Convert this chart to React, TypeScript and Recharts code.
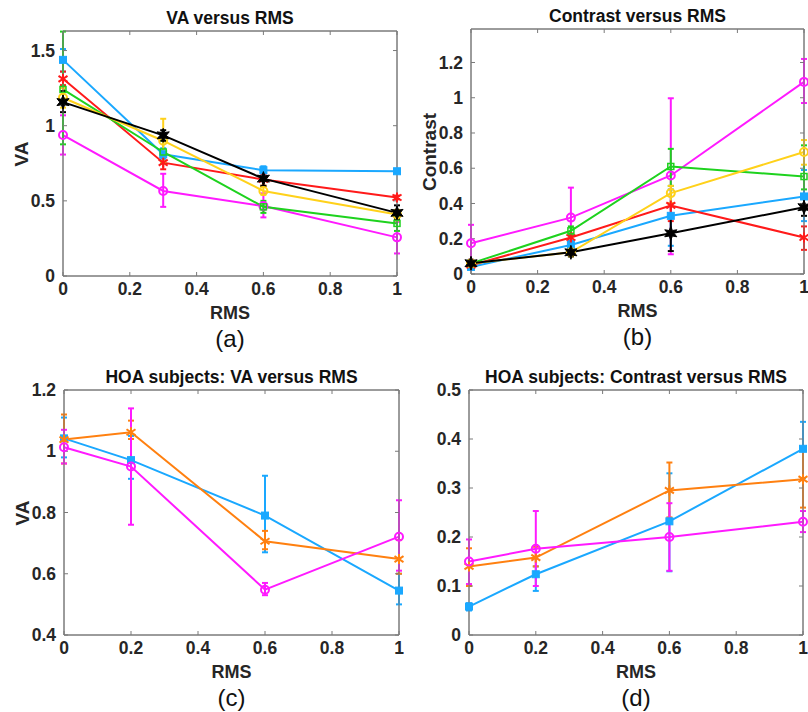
import React from 'react';
import { LineChart, Line, XAxis, YAxis, ErrorBar, ReferenceArea } from 'recharts';

// x positions (RMS)
const rmsAB = [0, 0.3, 0.6, 1];
const rmsCD = [0, 0.2, 0.6, 1];
const xTicks = [0, 0.2, 0.4, 0.6, 0.8, 1];

// (a) VA versus RMS
const vaMagenta = [0.938, 0.566, 0.465, 0.257];
const vaMagentaLo = [0.808, 0.46, 0.39, 0.15];
const vaMagentaHi = [1.069, 0.68, 0.55, 0.36];
const vaBlue = [1.438, 0.81, 0.704, 0.697];
const vaBlueLo = [1.36, 0.78, 0.68, 0.685];
const vaBlueHi = [1.51, 0.85, 0.73, 0.71];
const vaRed = [1.312, 0.754, 0.642, 0.522];
const vaRedLo = [1.27, 0.71, 0.6, 0.51];
const vaRedHi = [1.36, 0.8, 0.68, 0.535];
const vaGreen = [1.241, 0.825, 0.46, 0.35];
const vaGreenLo = [0.876, 0.75, 0.42, 0.3];
const vaGreenHi = [1.626, 0.9, 0.5, 0.4];
const vaYellow = [1.186, 0.9, 0.566, 0.409];
const vaYellowLo = [1.12, 0.76, 0.54, 0.37];
const vaYellowHi = [1.25, 1.046, 0.6, 0.44];
const vaBlack = [1.157, 0.936, 0.648, 0.42];
const vaBlackLo = [1.09, 0.9, 0.6, 0.38];
const vaBlackHi = [1.23, 0.97, 0.7, 0.47];

// (b) Contrast versus RMS
const ctMagenta = [0.174, 0.32, 0.559, 1.09];
const ctMagentaLo = [0.08, 0.16, 0.112, 0.97];
const ctMagentaHi = [0.279, 0.49, 0.997, 1.22];
const ctBlue = [0.04, 0.165, 0.33, 0.44];
const ctBlueLo = [0.03, 0.14, 0.16, 0.3];
const ctBlueHi = [0.05, 0.19, 0.48, 0.59];
const ctRed = [0.05, 0.207, 0.389, 0.207];
const ctRedLo = [0.03, 0.18, 0.3, 0.137];
const ctRedHi = [0.08, 0.23, 0.4, 0.27];
const ctGreen = [0.06, 0.245, 0.61, 0.553];
const ctGreenLo = [0.05, 0.22, 0.5, 0.48];
const ctGreenHi = [0.07, 0.27, 0.71, 0.73];
const ctYellow = [0.06, 0.123, 0.459, 0.692];
const ctYellowLo = [0.05, 0.1, 0.4, 0.62];
const ctYellowHi = [0.07, 0.14, 0.5, 0.76];
const ctBlack = [0.061, 0.123, 0.231, 0.379];
const ctBlackLo = [0.04, 0.1, 0.13, 0.33];
const ctBlackHi = [0.08, 0.16, 0.33, 0.43];

// (c) HOA subjects: VA versus RMS
const hoaVaBlue = [1.042, 0.971, 0.79, 0.545];
const hoaVaBlueLo = [0.98, 0.91, 0.67, 0.5];
const hoaVaBlueHi = [1.11, 1.05, 0.92, 0.6];
const hoaVaOrange = [1.038, 1.062, 0.706, 0.648];
const hoaVaOrangeLo = [0.96, 1.04, 0.68, 0.6];
const hoaVaOrangeHi = [1.12, 1.1, 0.74, 0.71];
const hoaVaMagenta = [1.013, 0.95, 0.548, 0.721];
const hoaVaMagentaLo = [0.96, 0.76, 0.53, 0.61];
const hoaVaMagentaHi = [1.07, 1.14, 0.57, 0.84];

// (d) HOA subjects: Contrast versus RMS
const hoaCtBlue = [0.058, 0.124, 0.232, 0.38];
const hoaCtBlueLo = [0.05, 0.09, 0.13, 0.32];
const hoaCtBlueHi = [0.065, 0.14, 0.33, 0.435];
const hoaCtOrange = [0.14, 0.158, 0.295, 0.318];
const hoaCtOrangeLo = [0.1, 0.14, 0.24, 0.26];
const hoaCtOrangeHi = [0.177, 0.18, 0.352, 0.378];
const hoaCtMagenta = [0.15, 0.176, 0.2, 0.231];
const hoaCtMagentaLo = [0.104, 0.1, 0.131, 0.21];
const hoaCtMagentaHi = [0.195, 0.253, 0.269, 0.253];

const BLUE = '#1aa8ff';
const RED = '#ff1a1a';
const GREEN = '#1ed21e';
const YELLOW = '#ffd11a';
const BLACK = '#000000';
const MAGENTA = '#ff1aff';
const ORANGE = '#ff8010';

const FONT = '"Liberation Sans", Arial, Helvetica, sans-serif';
const AXIS = '#7a7a7a';
const TEXT = '#262626';

type Shape = 'square' | 'openSquare' | 'circle' | 'star' | 'asterisk';

interface Series {
  key: string;
  color: string;
  shape: Shape;
  values: number[];
  lo: number[];
  hi: number[];
}

const Marker = ({ cx, cy, color, shape }: { cx: number; cy: number; color: string; shape: Shape }) => {
  if (cx == null || cy == null) return null;
  if (shape === 'square') {
    return <rect x={cx - 3.5} y={cy - 3.5} width={7} height={7} fill={color} stroke={color} />;
  }
  if (shape === 'openSquare') {
    return <rect x={cx - 3} y={cy - 3} width={6} height={6} fill="none" stroke={color} strokeWidth={1.5} />;
  }
  if (shape === 'circle') {
    return <circle cx={cx} cy={cy} r={4} fill="none" stroke={color} strokeWidth={2} />;
  }
  if (shape === 'star') {
    const pts: string[] = [];
    for (let i = 0; i < 12; i++) {
      const r = i % 2 === 0 ? 7 : 3.2;
      const a = (Math.PI / 6) * i - Math.PI / 2;
      pts.push(`${cx + r * Math.cos(a)},${cy + r * Math.sin(a)}`);
    }
    return <polygon points={pts.join(' ')} fill={color} stroke={color} strokeWidth={1} />;
  }
  // asterisk
  return (
    <g stroke={color} strokeWidth={2}>
      <line x1={cx} y1={cy - 5} x2={cx} y2={cy + 5} />
      <line x1={cx - 4.5} y1={cy - 3} x2={cx + 4.5} y2={cy + 3} />
      <line x1={cx - 4.5} y1={cy + 3} x2={cx + 4.5} y2={cy - 3} />
    </g>
  );
};

const buildRows = (xs: number[], series: Series[]) =>
  xs.map((x, i) => {
    const row: Record<string, any> = { x };
    series.forEach((s) => {
      row[s.key] = s.values[i];
      row[`${s.key}Err`] = [s.values[i] - s.lo[i], s.hi[i] - s.values[i]];
    });
    return row;
  });

interface PanelProps {
  left: number;
  top: number;
  plot: { top: number; right: number; bottom: number; left: number }; // plot box edges inside the panel
  xs: number[];
  series: Series[];
  yDomain: [number, number];
  yTicks: number[];
  title: string;
  yLabel?: string;
  sub: string;
}

const Panel: React.FC<PanelProps> = ({ left, top, plot, xs, series, yDomain, yTicks, title, yLabel, sub }) => {
  const data = buildRows(xs, series);
  // every axis takes 1px, so the margins are one less than the plot box offsets
  const margin = { top: plot.top - 1, right: 404 - plot.right - 1, bottom: 356 - plot.bottom - 1, left: plot.left - 1 };
  const mid = (plot.left + plot.right) / 2;
  const tickStyle = { fontSize: 17.5, fontWeight: 700, fill: TEXT, fontFamily: FONT };
  return (
    <div style={{ position: 'absolute', left, top, width: 404, height: 356, fontFamily: FONT }}>
      <LineChart width={404} height={356} data={data} margin={margin}>
        <XAxis
          dataKey="x"
          type="number"
          domain={[0, 1]}
          ticks={xTicks}
          height={1}
          tickSize={-4}
          tickMargin={11}
          stroke={AXIS}
          tick={tickStyle}
          interval={0}
        />
        <XAxis
          xAxisId="top"
          dataKey="x"
          type="number"
          orientation="top"
          domain={[0, 1]}
          ticks={xTicks}
          height={1}
          tickSize={-4}
          tickFormatter={() => ''}
          stroke={AXIS}
          interval={0}
        />
        <YAxis
          type="number"
          domain={yDomain}
          ticks={yTicks}
          width={1}
          tickSize={-4}
          tickMargin={12}
          stroke={AXIS}
          tick={tickStyle}
          allowDataOverflow
          interval={0}
        />
        <YAxis
          yAxisId="right"
          type="number"
          orientation="right"
          domain={yDomain}
          ticks={yTicks}
          width={1}
          tickSize={-4}
          tickFormatter={() => ''}
          stroke={AXIS}
          allowDataOverflow
          interval={0}
        />
        <ReferenceArea x1={0} x2={1} y1={yDomain[0]} y2={yDomain[1]} fill="none" stroke={AXIS} strokeWidth={1} />
        {series.map((s) => (
          <Line
            key={s.key}
            dataKey={s.key}
            stroke={s.color}
            strokeWidth={2}
            isAnimationActive={false}
            dot={(p: any) => <Marker key={`${s.key}-${p.index}`} cx={p.cx} cy={p.cy} color={s.color} shape={s.shape} />}
            activeDot={false}
          >
            <ErrorBar dataKey={`${s.key}Err`} direction="y" width={3} strokeWidth={2} stroke={s.color} />
          </Line>
        ))}
      </LineChart>
      <div style={{ position: 'absolute', left: mid - 200, width: 400, top: plot.top - 23, textAlign: 'center', fontSize: 17.5, fontWeight: 700, color: '#111', lineHeight: '20px' }}>
        {title}
      </div>
      <div style={{ position: 'absolute', left: mid - 100, width: 200, top: plot.bottom + 27, textAlign: 'center', fontSize: 18, fontWeight: 700, color: TEXT, lineHeight: '20px' }}>
        RMS
      </div>
      <div style={{ position: 'absolute', left: mid - 100, width: 200, top: plot.bottom + 49, textAlign: 'center', fontSize: 24, color: '#111', lineHeight: '28px' }}>
        {sub}
      </div>
      {yLabel && (
        <div
          style={{
            position: 'absolute',
            left: plot.left - 41 - 100,
            top: (plot.top + plot.bottom) / 2 - 11,
            width: 200,
            textAlign: 'center',
            fontSize: 19,
            fontWeight: 700,
            color: TEXT,
            lineHeight: '22px',
            transform: 'rotate(-90deg)',
          }}
        >
          {yLabel}
        </div>
      )}
    </div>
  );
};

const seriesA: Series[] = [
  { key: 'magenta', color: MAGENTA, shape: 'circle', values: vaMagenta, lo: vaMagentaLo, hi: vaMagentaHi },
  { key: 'blue', color: BLUE, shape: 'square', values: vaBlue, lo: vaBlueLo, hi: vaBlueHi },
  { key: 'red', color: RED, shape: 'asterisk', values: vaRed, lo: vaRedLo, hi: vaRedHi },
  { key: 'green', color: GREEN, shape: 'openSquare', values: vaGreen, lo: vaGreenLo, hi: vaGreenHi },
  { key: 'yellow', color: YELLOW, shape: 'circle', values: vaYellow, lo: vaYellowLo, hi: vaYellowHi },
  { key: 'black', color: BLACK, shape: 'star', values: vaBlack, lo: vaBlackLo, hi: vaBlackHi },
];

const seriesB: Series[] = [
  { key: 'magenta', color: MAGENTA, shape: 'circle', values: ctMagenta, lo: ctMagentaLo, hi: ctMagentaHi },
  { key: 'blue', color: BLUE, shape: 'square', values: ctBlue, lo: ctBlueLo, hi: ctBlueHi },
  { key: 'red', color: RED, shape: 'asterisk', values: ctRed, lo: ctRedLo, hi: ctRedHi },
  { key: 'green', color: GREEN, shape: 'openSquare', values: ctGreen, lo: ctGreenLo, hi: ctGreenHi },
  { key: 'yellow', color: YELLOW, shape: 'circle', values: ctYellow, lo: ctYellowLo, hi: ctYellowHi },
  { key: 'black', color: BLACK, shape: 'star', values: ctBlack, lo: ctBlackLo, hi: ctBlackHi },
];

const seriesC: Series[] = [
  { key: 'blue', color: BLUE, shape: 'square', values: hoaVaBlue, lo: hoaVaBlueLo, hi: hoaVaBlueHi },
  { key: 'orange', color: ORANGE, shape: 'asterisk', values: hoaVaOrange, lo: hoaVaOrangeLo, hi: hoaVaOrangeHi },
  { key: 'magenta', color: MAGENTA, shape: 'circle', values: hoaVaMagenta, lo: hoaVaMagentaLo, hi: hoaVaMagentaHi },
];

const seriesD: Series[] = [
  { key: 'blue', color: BLUE, shape: 'square', values: hoaCtBlue, lo: hoaCtBlueLo, hi: hoaCtBlueHi },
  { key: 'orange', color: ORANGE, shape: 'asterisk', values: hoaCtOrange, lo: hoaCtOrangeLo, hi: hoaCtOrangeHi },
  { key: 'magenta', color: MAGENTA, shape: 'circle', values: hoaCtMagenta, lo: hoaCtMagentaLo, hi: hoaCtMagentaHi },
];

export default function App() {
  return (
    <div style={{ position: 'absolute', left: 0, top: 0, width: 808, height: 712, background: '#fff', overflow: 'hidden' }}>
      <Panel
        left={0}
        top={0}
        plot={{ top: 31, right: 397, bottom: 276, left: 63 }}
        xs={rmsAB}
        series={seriesA}
        yDomain={[0, 1.63]}
        yTicks={[0, 0.5, 1, 1.5]}
        title="VA versus RMS"
        yLabel="VA"
        sub="(a)"
      />
      <Panel
        left={404}
        top={0}
        plot={{ top: 29, right: 400, bottom: 274, left: 67 }}
        xs={rmsAB}
        series={seriesB}
        yDomain={[0, 1.39]}
        yTicks={[0, 0.2, 0.4, 0.6, 0.8, 1, 1.2]}
        title="Contrast versus RMS"
        yLabel="Contrast"
        sub="(b)"
      />
      <Panel
        left={0}
        top={356}
        plot={{ top: 34, right: 399, bottom: 279, left: 64 }}
        xs={rmsCD}
        series={seriesC}
        yDomain={[0.4, 1.2]}
        yTicks={[0.4, 0.6, 0.8, 1, 1.2]}
        title="HOA subjects: VA versus RMS"
        yLabel="VA"
        sub="(c)"
      />
      <Panel
        left={404}
        top={356}
        plot={{ top: 34, right: 399, bottom: 279, left: 65 }}
        xs={rmsCD}
        series={seriesD}
        yDomain={[0, 0.5]}
        yTicks={[0, 0.1, 0.2, 0.3, 0.4, 0.5]}
        title="HOA subjects: Contrast versus RMS"
        sub="(d)"
      />
    </div>
  );
}
